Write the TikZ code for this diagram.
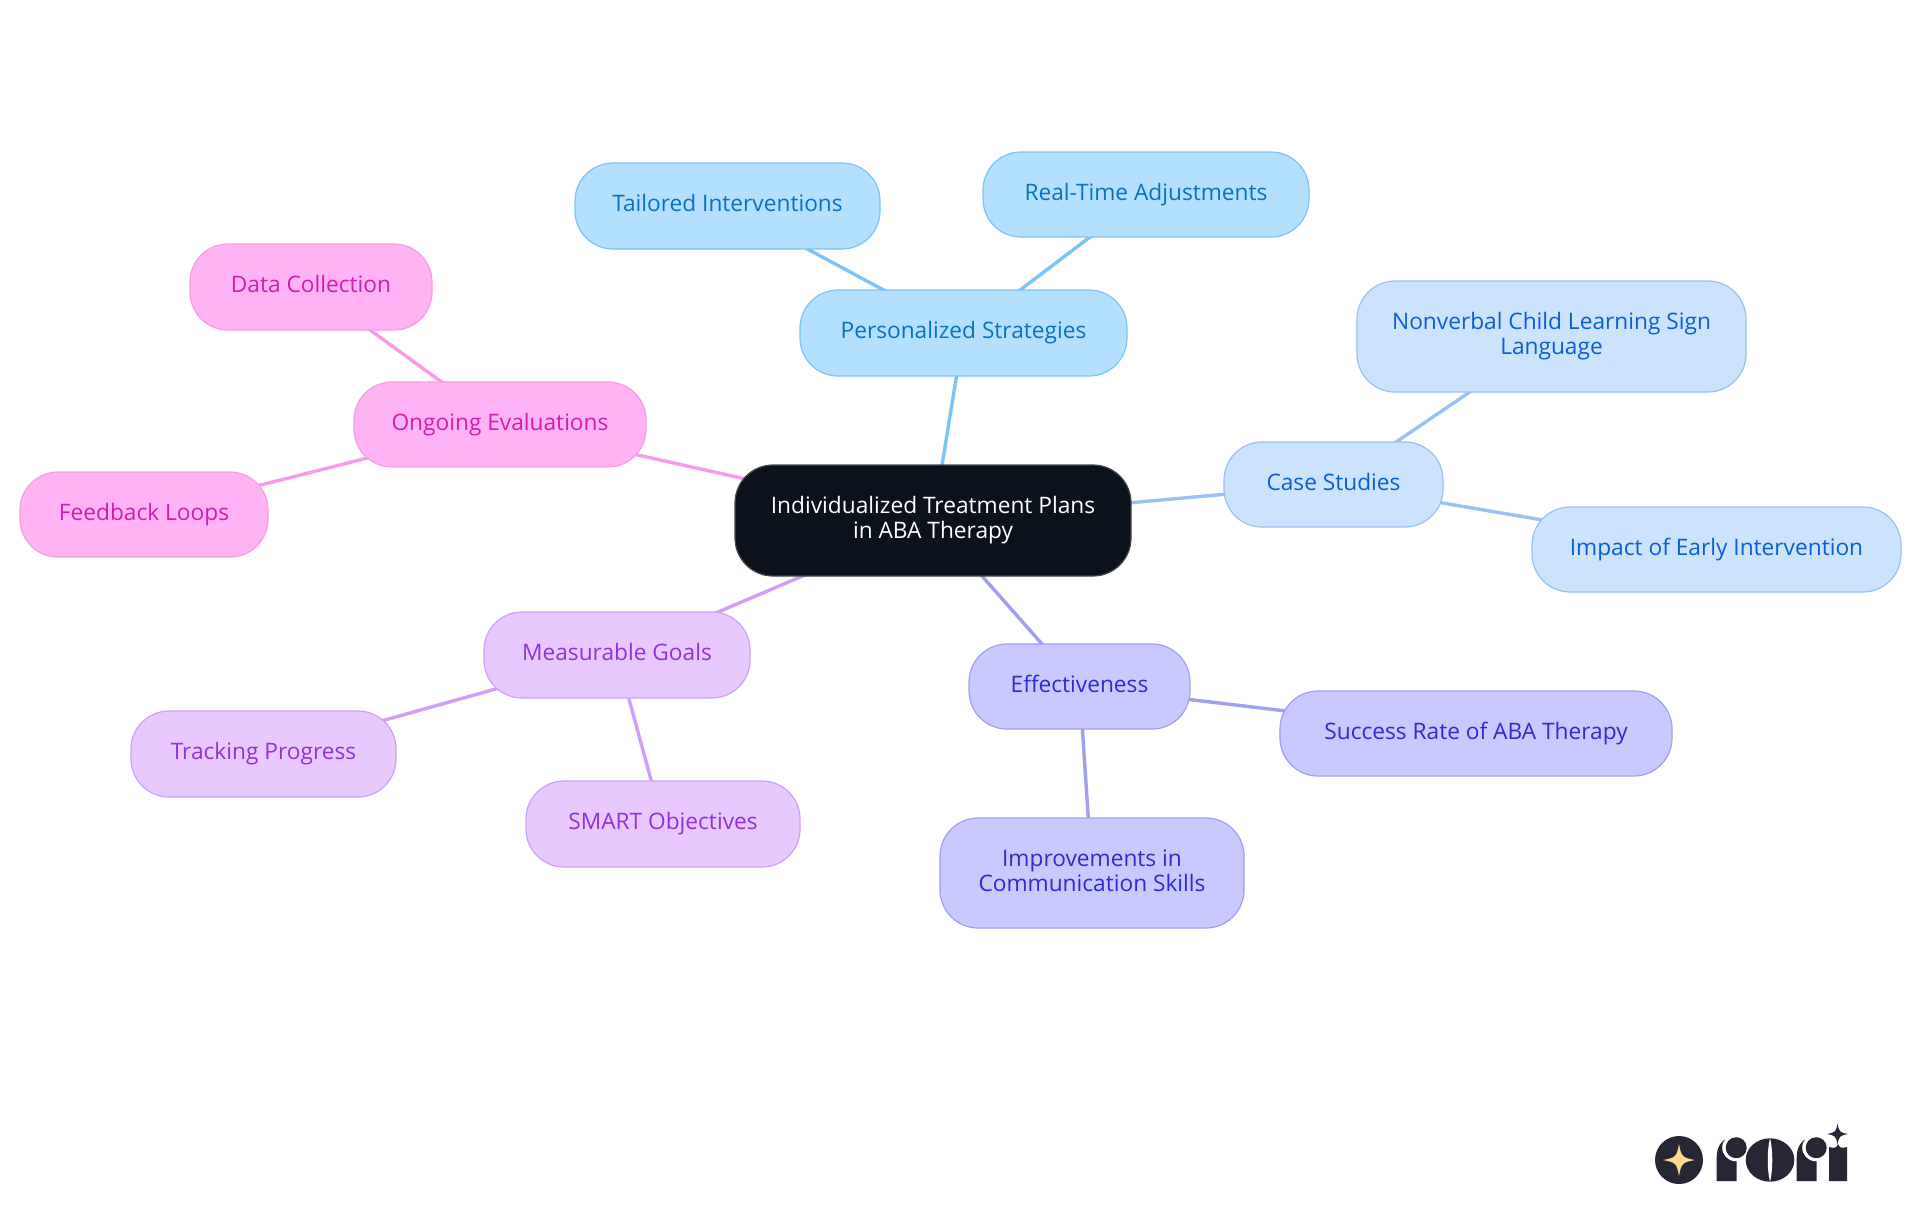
\documentclass[tikz,border=0pt]{standalone}
\usepackage{fontspec}
\setmainfont{Open Sans}
\usetikzlibrary{backgrounds}
\definecolor{rootfill}{HTML}{0B121B}
\definecolor{rootline}{HTML}{43484E}
\definecolor{blfill}{HTML}{B3E0FF}\definecolor{blline}{HTML}{7CC4F5}\definecolor{bltext}{HTML}{0672C4}
\definecolor{csfill}{HTML}{CCE3FD}\definecolor{csline}{HTML}{99C2F2}\definecolor{cstext}{HTML}{0B5FCF}
\definecolor{effill}{HTML}{C9C9FF}\definecolor{efline}{HTML}{A09FF0}\definecolor{eftext}{HTML}{2F2AD1}
\definecolor{mgfill}{HTML}{E8C9FF}\definecolor{mgline}{HTML}{CFA0F5}\definecolor{mgtext}{HTML}{9130DC}
\definecolor{ogfill}{HTML}{FFB3F5}\definecolor{ogline}{HTML}{F59CE6}\definecolor{ogtext}{HTML}{D11DB0}
\definecolor{logodark}{HTML}{272635}
\definecolor{logostar}{HTML}{FCD98A}
\tikzset{
  boxbase/.style={rectangle,rounded corners=19pt,inner sep=0pt,align=center,line width=0.6pt,
    font=\fontsize{11.35pt}{12.4pt}\selectfont},
  rootbox/.style={boxbase,fill=rootfill,draw=rootline,text=white},
  blbox/.style={boxbase,fill=blfill,draw=blline,text=bltext},
  csbox/.style={boxbase,fill=csfill,draw=csline,text=cstext},
  efbox/.style={boxbase,fill=effill,draw=efline,text=eftext},
  mgbox/.style={boxbase,fill=mgfill,draw=mgline,text=mgtext},
  ogbox/.style={boxbase,fill=ogfill,draw=ogline,text=ogtext},
  linkbase/.style={line width=1.7pt},
}
\newcommand{\tstrut}{\rule[-3.4pt]{0pt}{12.4pt}}
\newcommand{\mapbox}[7]{%
  \pgfmathsetmacro{\cxx}{(#3+#5)/2}\pgfmathsetmacro{\cyy}{(#4+#6)/2}%
  \pgfmathsetmacro{\wdd}{(#5-#3)/2}\pgfmathsetmacro{\htt}{(#6-#4)/2}%
  \node[#1,minimum width=\wdd pt,minimum height=\htt pt] (#2) at (\cxx,\cyy) {\tstrut#7\tstrut};}
\newcommand{\logostarshape}[3]{% cx cy r
  \fill (#1-#3,#2) .. controls (#1-0.2*#3,#2-0.15*#3) and (#1-0.15*#3,#2-0.2*#3) .. (#1,#2-#3)
   .. controls (#1+0.15*#3,#2-0.2*#3) and (#1+0.2*#3,#2-0.15*#3) .. (#1+#3,#2)
   .. controls (#1+0.2*#3,#2+0.15*#3) and (#1+0.15*#3,#2+0.2*#3) .. (#1,#2+#3)
   .. controls (#1-0.15*#3,#2+0.2*#3) and (#1-0.2*#3,#2+0.15*#3) .. (#1-#3,#2) -- cycle;}
\newcommand{\logor}[1]{% left edge of the stem
  \begin{scope}[shift={(#1,0)}]
  \fill[logodark] (0,1181) -- (0,1157) .. controls (0,1147) and (5,1139) .. (13,1138) -- (20,1138) -- (20,1181) -- cycle;
  \fill[white] (19,1147.7) circle (13.5);
  \fill[logodark] (19.5,1147.7) circle (10.5);
  \end{scope}}
\begin{document}
\begin{tikzpicture}[x=0.5pt,y=-0.5pt]
\useasboundingbox (0,0) rectangle (1920,1215);

\mapbox{rootbox}{root}{735}{465}{1131}{576}{Individualized Treatment Plans\\in ABA Therapy}
\mapbox{blbox}{ps}{800}{290}{1127}{376}{Personalized Strategies}
\mapbox{blbox}{ti}{575}{163}{880}{249}{Tailored Interventions}
\mapbox{blbox}{rt}{983}{152}{1309}{237}{Real-Time Adjustments}
\mapbox{csbox}{cs}{1224}{442}{1443}{527}{Case Studies}
\mapbox{csbox}{nv}{1357}{281}{1746}{392}{Nonverbal Child Learning Sign\\Language}
\mapbox{csbox}{ie}{1532}{507}{1901}{592}{Impact of Early Intervention}
\mapbox{efbox}{ef}{969}{644}{1190}{729}{Effectiveness}
\mapbox{efbox}{sr}{1280}{691}{1672}{776}{Success Rate of ABA Therapy}
\mapbox{efbox}{ic}{940}{818}{1244}{928}{Improvements in\\Communication Skills}
\mapbox{mgbox}{mg}{484}{612}{750}{698}{Measurable Goals}
\mapbox{mgbox}{tp}{131}{711}{396}{797}{Tracking Progress}
\mapbox{mgbox}{so}{526}{781}{800}{867}{SMART Objectives}
\mapbox{ogbox}{oe}{354}{382}{646}{467}{Ongoing Evaluations}
\mapbox{ogbox}{dc}{190}{244}{432}{330}{Data Collection}
\mapbox{ogbox}{fl}{20}{472}{268}{557}{Feedback Loops}

\begin{pgfonlayer}{background}
\fill[white] (0,0) rectangle (1920,1215);
\draw[linkbase,blline] (root.center) -- (ps.center);
\draw[linkbase,blline] (ps.center) -- (ti.center);
\draw[linkbase,blline] (ps.center) -- (rt.center);
\draw[linkbase,csline] (root.center) -- (cs.center);
\draw[linkbase,csline] (cs.center) -- (nv.center);
\draw[linkbase,csline] (cs.center) -- (ie.center);
\draw[linkbase,efline] (root.center) -- (ef.center);
\draw[linkbase,efline] (ef.center) -- (sr.center);
\draw[linkbase,efline] (ef.center) -- (ic.center);
\draw[linkbase,mgline] (root.center) -- (mg.center);
\draw[linkbase,mgline] (mg.center) -- (tp.center);
\draw[linkbase,mgline] (mg.center) -- (so.center);
\draw[linkbase,ogline] (root.center) -- (oe.center);
\draw[linkbase,ogline] (oe.center) -- (dc.center);
\draw[linkbase,ogline] (oe.center) -- (fl.center);
\end{pgfonlayer}

% logo
\fill[logodark] (1679,1160) circle (24);
\begin{scope}[logostar]\logostarshape{1679}{1160}{16}\end{scope}
\logor{1716.7}
\fill[logodark] (1770,1160) ellipse (24.3 and 21.7);
\fill[white] (1770,1138) .. controls (1767,1150) and (1767,1170) .. (1770,1182) .. controls (1773,1170) and (1773,1150) .. (1770,1138) -- cycle;
\logor{1796.7}
\fill[logodark] (1829,1181) -- (1829,1147) .. controls (1835,1149) and (1837,1147) .. (1838,1144) .. controls (1839,1147) and (1841,1149) .. (1847,1147) -- (1847,1181) -- cycle;
\begin{scope}[logodark]\logostarshape{1837.5}{1134}{10.5}\end{scope}
\end{tikzpicture}
\end{document}
